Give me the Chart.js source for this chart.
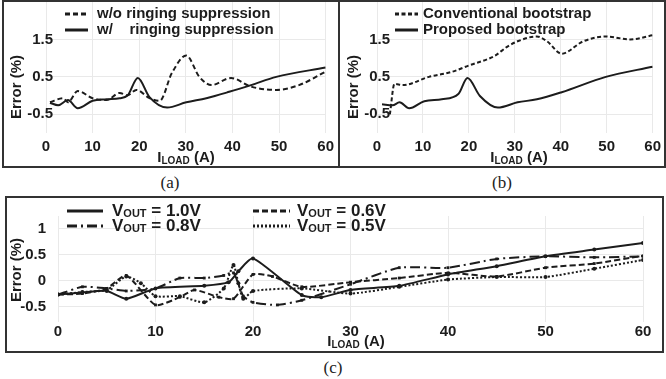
<!DOCTYPE html>
<html>
<head>
<meta charset="utf-8">
<script src="https://cdn.jsdelivr.net/npm/chart.js@4/dist/chart.umd.min.js"></script>
<style>
  body { margin: 0; width: 666px; height: 379px; background: #fff; position: relative; overflow: hidden; }
  .box { position: absolute; border: 2px solid #333; box-sizing: border-box; }
  canvas { position: absolute; }
  .cap { position: absolute; font-family: "Liberation Serif", "DejaVu Serif", serif; font-size: 17px; color: #222; transform: translateX(-50%); line-height: 1; }
</style>
</head>
<body>
<div class="box" style="left:2px;top:0;width:338px;height:168px"></div>
<div class="box" style="left:338px;top:0;width:328px;height:168px"></div>
<div class="box" style="left:5px;top:196px;width:659px;height:157px"></div>

<canvas id="chartA" width="339" height="168" style="left:0;top:0"></canvas>
<canvas id="chartB" width="327" height="168" style="left:339px;top:0"></canvas>
<canvas id="chartC" width="666" height="160" style="left:0;top:195px"></canvas>

<div class="cap" style="left:170px;top:174px">(a)</div>
<div class="cap" style="left:502px;top:174px">(b)</div>
<div class="cap" style="left:333px;top:359px">(c)</div>

<script>
// ---- Datos ----
// (a) con / sin supresion de ringing
const aNames = ['w/o ringing suppression', 'w/    ringing suppression'];
const aLoadWo = [0.85, 3.7, 4.7, 6.8, 10, 13, 15.8, 17.5, 19.4, 22.2, 24.4, 27, 30.1, 32.9, 35.5, 39.7, 44, 49.4, 54.3, 60];
const aErrWo  = [-0.18, -0.07, -0.18, 0.12, -0.07, -0.12, 0.07, 0.01, 0.15, -0.07, -0.14, 0.6, 1.07, 0.5, 0.28, 0.47, 0.24, 0.15, 0.28, 0.64];
const aLoadW  = [0.85, 2.6, 4.7, 6.8, 10, 13, 15.8, 17.5, 19.7, 22.2, 26, 30.1, 34.4, 39.3, 44, 49.4, 60];
const aErrW   = [-0.19, -0.26, -0.12, -0.34, -0.14, -0.1, -0.07, 0.0, 0.47, -0.04, -0.32, -0.18, -0.07, 0.1, 0.28, 0.5, 0.75];

// (b) bootstrap convencional / propuesto
const bNames = ['Conventional bootstrap', 'Proposed bootstrap'];
const bLoadConv = [2.8, 3.8, 5.6, 11.3, 16.2, 19.9, 25.6, 28.4, 30.6, 34.8, 37, 40.2, 44.9, 49.8, 55.1, 60];
const bErrConv  = [-0.5, 0.31, 0.28, 0.5, 0.63, 0.8, 1.06, 1.31, 1.45, 1.58, 1.45, 1.12, 1.45, 1.58, 1.5, 1.61];
const bLoadProp = [1.1, 3.4, 4.9, 7, 10.3, 14.1, 17.7, 19.7, 22.4, 26.3, 30.6, 34.8, 40.2, 49.8, 60];
const bErrProp  = [-0.23, -0.26, -0.18, -0.34, -0.15, -0.1, 0.04, 0.47, -0.01, -0.32, -0.18, -0.1, 0.09, 0.5, 0.77];

// (c) distintas tensiones de salida
const cVout = ['1.0V', '0.8V', '0.6V', '0.5V'];
const cLoad10 = [0, 2.5, 5, 7, 10, 15, 17.5, 18.5, 20, 25, 27, 30, 35, 40, 45, 50, 55, 60];
const cErr10  = [-0.27, -0.23, -0.2, -0.35, -0.15, -0.1, -0.03, 0.18, 0.43, -0.28, -0.32, -0.18, -0.1, 0.12, 0.28, 0.47, 0.6, 0.73];
const cLoad08 = [0, 2.5, 5, 7, 10, 12.5, 15, 17, 18, 19, 20, 22.5, 25, 30, 35, 40, 45, 50, 55, 60];
const cErr08  = [-0.27, -0.12, -0.15, -0.2, -0.15, 0.05, 0.05, 0.1, 0.15, -0.3, -0.42, -0.47, -0.38, -0.07, 0.25, 0.25, 0.42, 0.47, 0.45, 0.47];
const cLoad06 = [0, 2.5, 5, 7, 10, 12.5, 14, 16.5, 18, 20, 22, 25, 30, 35, 40, 45, 50, 55, 60];
const cErr06  = [-0.27, -0.25, -0.15, 0.1, -0.47, -0.32, -0.18, -0.32, -0.35, 0.12, 0.08, -0.12, -0.03, 0.05, 0.15, 0.08, 0.25, 0.33, 0.48];
const cLoad05 = [0, 2.5, 5, 7, 8.5, 10, 12.5, 15, 17, 18, 18.5, 19, 20, 25, 30, 35, 40, 45, 50, 55, 60];
const cErr05  = [-0.27, -0.22, -0.18, 0.08, -0.05, -0.3, -0.3, -0.42, -0.15, 0.3, -0.05, -0.35, -0.2, -0.15, -0.25, -0.12, 0.02, 0.07, 0.07, 0.23, 0.4];

// Ticks
const abYTicks = [-0.5, 0.5, 1.5];
const cYTicks = [-0.5, 0, 0.5, 1];

const INK = '#1c1c1c';
const GRID = '#e9e9e9';
const FONT = '"Liberation Sans", Arial, sans-serif';

function pts(xs, ys) {
    return xs.map((x, i) => ({ x: x, y: ys[i] }));
}

// Dibuja texto con subindices: parts = [{t, s, dy}]
function drawRich(ctx, parts, x, y, align) {
    let total = 0;
    parts.forEach(p => {
        ctx.font = 'bold ' + p.s + 'px ' + FONT;
        p.w = ctx.measureText(p.t).width;
        total += p.w;
    });
    let cx = align === 'center' ? x - total / 2 : x;
    ctx.textAlign = 'left';
    ctx.textBaseline = 'middle';
    parts.forEach(p => {
        ctx.font = 'bold ' + p.s + 'px ' + FONT;
        ctx.fillText(p.t, cx, y + (p.dy || 0));
        cx += p.w;
    });
}

// Plugin para titulos de ejes, etiquetas Y y leyenda con estilos de linea
const panelText = {
    id: 'panelText',
    beforeDatasetsDraw(chart, args, opts) {
        // Etiquetas del eje Y (se solapan un poco con el area del grafico, como en el original)
        if (!opts.yLabels) return;
        const ctx = chart.ctx;
        const ys = chart.scales.y;
        ctx.save();
        ctx.fillStyle = INK;
        ctx.font = 'bold 15px ' + FONT;
        ctx.textAlign = 'right';
        ctx.textBaseline = 'middle';
        opts.yLabels.values.forEach(v => {
            ctx.fillText(String(v), opts.yLabels.right, ys.getPixelForValue(v));
        });
        ctx.restore();
    },
    afterDraw(chart, args, opts) {
        const ctx = chart.ctx;
        ctx.save();
        ctx.fillStyle = INK;

        // Titulo eje Y
        ctx.save();
        ctx.translate(opts.yTitle.x, opts.yTitle.y);
        ctx.rotate(-Math.PI / 2);
        ctx.textAlign = 'center';
        ctx.textBaseline = 'middle';
        ctx.font = 'bold 15px ' + FONT;
        ctx.fillText('Error (%)', 0, 0);
        ctx.restore();

        // Titulo eje X (I_LOAD)
        drawRich(ctx, [{ t: 'I', s: 15 }, { t: 'LOAD', s: 10, dy: 3 }, { t: ' (A)', s: 15 }],
            opts.xTitle.x, opts.xTitle.y, 'center');

        // Leyenda
        opts.legend.forEach(item => {
            const ds = chart.data.datasets[item.index];
            ctx.save();
            ctx.strokeStyle = INK;
            ctx.lineWidth = item.lw || 3;
            ctx.setLineDash(ds.borderDash || []);
            ctx.beginPath();
            ctx.moveTo(item.x0, item.y);
            ctx.lineTo(item.x1, item.y);
            ctx.stroke();
            ctx.restore();
            drawRich(ctx, item.parts, item.tx, item.y, 'left');
        });
        ctx.restore();
    }
};

function baseScales(yTicks, yMin, yMax, yWidth, yPad, showY, xHeight, xPad, fontSize) {
    return {
        x: {
            type: 'linear',
            min: 0,
            max: 60,
            ticks: { stepSize: 10, color: INK, padding: xPad, font: { family: FONT, size: fontSize, weight: 'bold' } },
            grid: { color: GRID, drawTicks: false, lineWidth: 1 },
            border: { display: false },
            afterFit: axis => { axis.height = xHeight; }
        },
        y: {
            min: yMin,
            max: yMax,
            afterBuildTicks: axis => { axis.ticks = yTicks.map(v => ({ value: v })); },
            ticks: {
                display: showY,
                color: INK, padding: yPad, font: { family: FONT, size: fontSize, weight: 'bold' },
                callback: v => String(v)
            },
            grid: { color: GRID, drawTicks: false, lineWidth: 1 },
            border: { display: false },
            afterFit: axis => { axis.width = yWidth; }
        }
    };
}

function smoothLine(label, xs, ys, dash) {
    return {
        label: label,
        data: pts(xs, ys),
        borderColor: INK,
        borderWidth: 2,
        borderDash: dash,
        pointRadius: 0,
        cubicInterpolationMode: 'monotone',
        fill: false
    };
}

const common = {
    responsive: false,
    animation: false,
    events: [],
    plugins: { legend: { display: false }, tooltip: { enabled: false } }
};

// ---- Grafico (a) ----
new Chart(document.getElementById('chartA'), {
    type: 'line',
    data: {
        datasets: [
            smoothLine(aNames[0], aLoadWo, aErrWo, [5, 3]),
            smoothLine(aNames[1], aLoadW, aErrW, [])
        ]
    },
    options: Object.assign({}, common, {
        layout: { padding: { left: 0, right: 13, top: 2, bottom: 0 } },
        scales: baseScales(abYTicks, -1, 2.5, 46, 0, false, 35, 5, 15),
        plugins: Object.assign({}, common.plugins, {
            panelText: {
                yLabels: { values: abYTicks, right: 53 },
                yTitle: { x: 17, y: 87 },
                xTitle: { x: 186, y: 158 },
                legend: [
                    { index: 0, x0: 65, x1: 88, y: 14, tx: 97, parts: [{ t: aNames[0], s: 15 }] },
                    { index: 1, x0: 65, x1: 88, y: 30, tx: 97, parts: [{ t: aNames[1], s: 15 }] }
                ]
            }
        })
    }),
    plugins: [panelText]
});

// ---- Grafico (b) ----
new Chart(document.getElementById('chartB'), {
    type: 'line',
    data: {
        datasets: [
            smoothLine(bNames[0], bLoadConv, bErrConv, [4, 2.5]),
            smoothLine(bNames[1], bLoadProp, bErrProp, [])
        ]
    },
    options: Object.assign({}, common, {
        layout: { padding: { left: 0, right: 8, top: 2, bottom: 0 } },
        scales: baseScales(abYTicks, -1, 2.5, 38, 0, false, 35, 5, 15),
        plugins: Object.assign({}, common.plugins, {
            panelText: {
                yLabels: { values: abYTicks, right: 51 },
                yTitle: { x: 15, y: 87 },
                xTitle: { x: 180, y: 158 },
                legend: [
                    { index: 0, x0: 56, x1: 79, y: 14, tx: 84, parts: [{ t: bNames[0], s: 15 }] },
                    { index: 1, x0: 56, x1: 79, y: 30, tx: 84, parts: [{ t: bNames[1], s: 15 }] }
                ]
            }
        })
    }),
    plugins: [panelText]
});

// ---- Grafico (c) ----
function markedLine(label, xs, ys, dash, style) {
    return {
        label: label,
        data: pts(xs, ys),
        borderColor: INK,
        borderWidth: 2,
        borderDash: dash,
        pointRadius: 2,
        pointStyle: style,
        pointBackgroundColor: INK,
        pointBorderWidth: 0,
        tension: 0.2,
        fill: false
    };
}

function voutParts(v) {
    return [{ t: 'V', s: 17 }, { t: 'OUT', s: 11, dy: 3 }, { t: ' = ' + v, s: 17 }];
}

new Chart(document.getElementById('chartC'), {
    type: 'line',
    data: {
        datasets: [
            markedLine('VOUT = ' + cVout[0], cLoad10, cErr10, [], 'circle'),
            markedLine('VOUT = ' + cVout[1], cLoad08, cErr08, [10, 4, 2, 4], 'rect'),
            markedLine('VOUT = ' + cVout[2], cLoad06, cErr06, [6, 3], 'rect'),
            markedLine('VOUT = ' + cVout[3], cLoad05, cErr05, [2, 2], 'circle')
        ]
    },
    options: Object.assign({}, common, {
        layout: { padding: { left: 0, right: 23, top: 3, bottom: 0 } },
        scales: baseScales(cYTicks, -0.8, 1.25, 58, 12, true, 33, 1, 15),
        plugins: Object.assign({}, common.plugins, {
            panelText: {
                yTitle: { x: 17, y: 75 },
                xTitle: { x: 356, y: 147 },
                legend: [
                    { index: 0, x0: 67, x1: 103, y: 16, tx: 112, parts: voutParts(cVout[0]) },
                    { index: 1, x0: 67, x1: 103, y: 31, tx: 112, parts: voutParts(cVout[1]) },
                    { index: 2, x0: 253, x1: 290, y: 16, tx: 297, parts: voutParts(cVout[2]) },
                    { index: 3, x0: 253, x1: 290, y: 31, tx: 297, parts: voutParts(cVout[3]) }
                ]
            }
        })
    }),
    plugins: [panelText]
});
</script>
</body>
</html>
